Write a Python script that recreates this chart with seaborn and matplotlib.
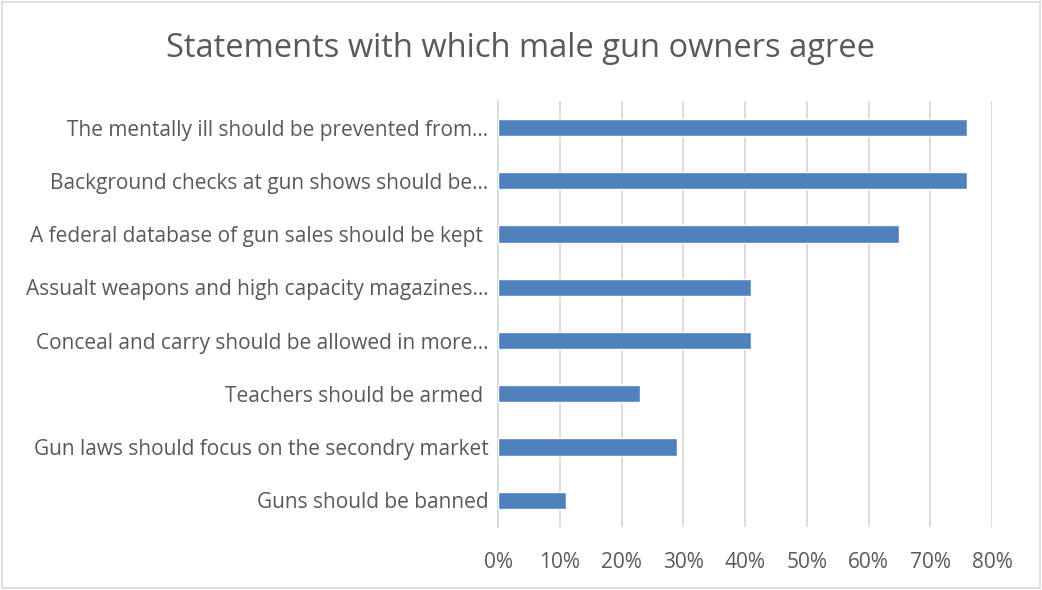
import matplotlib
matplotlib.use("Agg")
import matplotlib.pyplot as plt
from matplotlib.patches import Rectangle
from matplotlib.ticker import PercentFormatter, MultipleLocator
import seaborn as sns
import pandas as pd

statements = [
    "The mentally ill should be prevented from…",
    "Background checks at gun shows should be…",
    "A federal database of gun sales should be kept ",
    "Assualt weapons and high capacity magazines…",
    "Conceal and carry should be allowed in more…",
    "Teachers should be armed ",
    "Gun laws should focus on the secondry market",
    "Guns should be banned",
]
agree_share = [0.76, 0.76, 0.65, 0.41, 0.41, 0.23, 0.29, 0.11]

df = pd.DataFrame({"statement": statements, "share": agree_share})

sns.set_theme(style="white")
plt.rcParams["font.family"] = ["Open Sans", "DejaVu Sans"]

text_color = "#595959"
grid_color = "#d9d9d9"

fig = plt.figure(figsize=(10.42, 5.90), dpi=100)
ax = fig.add_axes([0.478, 0.107, 0.474, 0.722])

sns.barplot(data=df, y="statement", x="share", orient="h", color="#4f81bd",
            width=0.32, saturation=1, ax=ax, zorder=3)

ax.set_xlim(0, 0.8)
ax.xaxis.set_major_locator(MultipleLocator(0.1))
ax.xaxis.set_major_formatter(PercentFormatter(1.0, decimals=0))
ax.grid(axis="x", color=grid_color, linewidth=1.3, zorder=0)
ax.grid(axis="y", visible=False)
for side in ("top", "right", "bottom"):
    ax.spines[side].set_visible(False)
ax.spines["left"].set_color(grid_color)
ax.spines["left"].set_linewidth(1.3)
ax.set_xlabel("")
ax.set_ylabel("")
ax.tick_params(axis="x", colors=text_color, labelsize=15, length=0, pad=18)
ax.tick_params(axis="y", colors=text_color, labelsize=15, length=0, pad=7)

fig.text(0.5, 0.918, "Statements with which male gun owners agree",
         ha="center", va="center", fontsize=23.5, color=text_color)

fig.patches.append(Rectangle((0.002, 0.003), 0.996, 0.994, transform=fig.transFigure,
                             fill=False, edgecolor=grid_color, linewidth=1.2))

fig.savefig("out.png", dpi=100)
